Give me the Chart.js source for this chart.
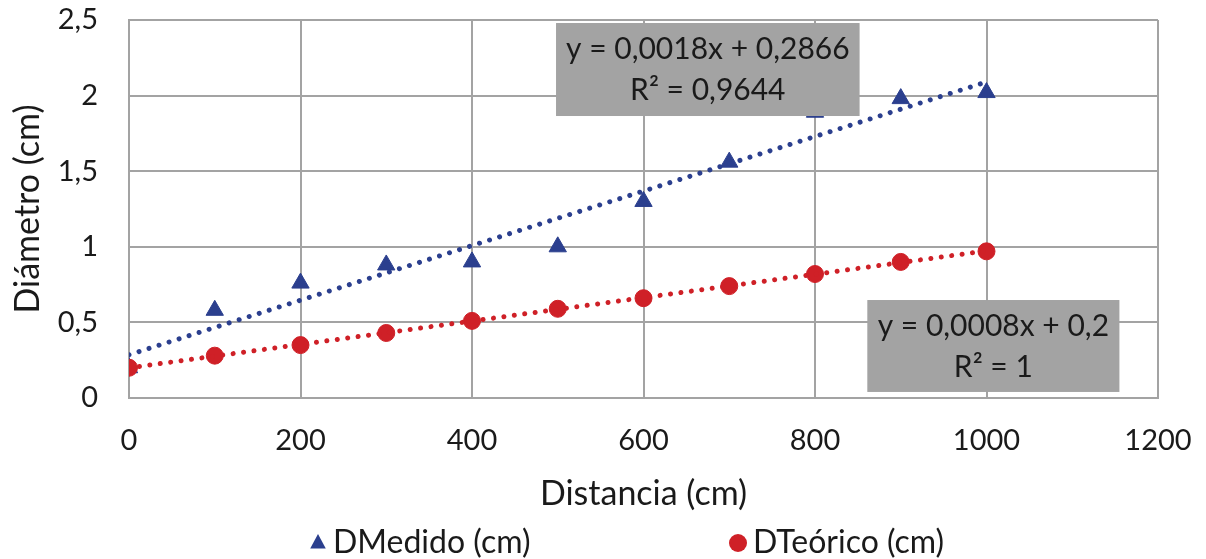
<!DOCTYPE html>
<html>
<head>
<meta charset="utf-8">
<script src="https://cdn.jsdelivr.net/npm/chart.js@4.4.0/dist/chart.umd.min.js"></script>
<style>
  html, body { margin: 0; padding: 0; background: #fff; }
  #wrap { width: 1206px; height: 559px; position: relative; }
</style>
</head>
<body>
<div id="wrap"><canvas id="chart"></canvas></div>
<script>
// Datos
const distancias = [0, 100, 200, 300, 400, 500, 600, 700, 800, 900, 1000];
const dMedido = [0.20, 0.58, 0.76, 0.88, 0.90, 1.00, 1.30, 1.56, 1.89, 1.98, 2.02];
const dTeorico = [0.20, 0.28, 0.35, 0.43, 0.51, 0.59, 0.66, 0.74, 0.82, 0.90, 0.97];
const xTickLabels = ['0', '200', '400', '600', '800', '1000', '1200'];
const yTickLabels = ['0', '0,5', '1', '1,5', '2', '2,5'];
const serieNombres = ['DMedido (cm)', 'DTeórico (cm)'];
const etiquetasAjuste = [
    ['y = 0,0018x + 0,2866', 'R² = 0,9644'],
    ['y = 0,0008x + 0,2', 'R² = 1']
];

const AZUL = '#2b3f8e';
const ROJO = '#cf2027';
const GRIS = '#a3a3a3';
const TEXTO = '#1a1a1a';
const FUENTE = 'Lato';

Chart.defaults.font.family = FUENTE;
Chart.defaults.color = TEXTO;

// Minimos cuadrados, como la linea de tendencia de Excel
function ajusteLineal(xs, ys) {
    const n = xs.length;
    const mx = xs.reduce((a, b) => a + b, 0) / n;
    const my = ys.reduce((a, b) => a + b, 0) / n;
    let sxy = 0, sxx = 0;
    for (let i = 0; i < n; i++) {
        sxy += (xs[i] - mx) * (ys[i] - my);
        sxx += (xs[i] - mx) * (xs[i] - mx);
    }
    const m = sxy / sxx;
    return { m: m, b: my - m * mx };
}

function lineaTendencia(xs, ys) {
    const f = ajusteLineal(xs, ys);
    const x0 = xs[0], x1 = xs[xs.length - 1];
    return [{ x: x0, y: f.m * x0 + f.b }, { x: x1, y: f.m * x1 + f.b }];
}

const puntos = (ys) => distancias.map((x, i) => ({ x: x, y: ys[i] }));

// Cajas grises con la ecuacion (en unidades de los ejes)
const cajas = [
    { xMin: 498, xMax: 852, yMin: 1.865, yMax: 2.48 },
    { xMin: 861, xMax: 1155, yMin: 0.04, yMax: 0.648 }
];

const cajasPlugin = {
    id: 'cajasPlugin',
    afterDatasetsDraw(chart) {
        const { ctx, scales: { x, y } } = chart;
        ctx.save();
        cajas.forEach((c, i) => {
            const l = x.getPixelForValue(c.xMin), r = x.getPixelForValue(c.xMax);
            const t = y.getPixelForValue(c.yMax), b = y.getPixelForValue(c.yMin);
            ctx.fillStyle = GRIS;
            ctx.fillRect(l, t, r - l, b - t);
            ctx.fillStyle = TEXTO;
            ctx.font = '30px ' + FUENTE;
            ctx.textAlign = 'center';
            ctx.textBaseline = 'middle';
            const cx = (l + r) / 2, cy = (t + b) / 2;
            const lineas = etiquetasAjuste[i];
            ctx.fillText(lineas[0], cx, cy - 20);
            ctx.fillText(lineas[1], cx, cy + 21);
        });
        ctx.restore();
    }
};

// Leyenda dibujada a mano para situarla como en el original
const leyendaPlugin = {
    id: 'leyendaPlugin',
    afterDraw(chart) {
        const { ctx } = chart;
        const items = [
            { ds: chart.data.datasets[2], mx: 318 },
            { ds: chart.data.datasets[3], mx: 738 }
        ];
        const yc = 543;
        ctx.save();
        items.forEach(it => {
            ctx.fillStyle = it.ds.backgroundColor;
            ctx.beginPath();
            if (it.ds.pointStyle === 'triangle') {
                const r = 9;
                ctx.moveTo(it.mx, yc - r);
                ctx.lineTo(it.mx + r * 0.866, yc + r * 0.5 + 1);
                ctx.lineTo(it.mx - r * 0.866, yc + r * 0.5 + 1);
                ctx.closePath();
            } else {
                ctx.arc(it.mx, yc, 9, 0, Math.PI * 2);
            }
            ctx.fill();
            ctx.fillStyle = TEXTO;
            ctx.font = '32px ' + FUENTE;
            ctx.textAlign = 'left';
            ctx.textBaseline = 'middle';
            ctx.fillText(it.ds.label, it.mx + 15, yc);
        });
        ctx.restore();
    }
};

const ctx = document.getElementById('chart').getContext('2d');
new Chart(ctx, {
    type: 'scatter',
    data: {
        datasets: [
            {
                label: 'Lineal (DMedido)',
                data: lineaTendencia(distancias, dMedido),
                showLine: true,
                borderColor: AZUL,
                borderWidth: 5,
                borderDash: [0.01, 10.5],
                borderCapStyle: 'round',
                pointRadius: 0,
                order: 1
            },
            {
                label: 'Lineal (DTeórico)',
                data: lineaTendencia(distancias, dTeorico),
                showLine: true,
                borderColor: ROJO,
                borderWidth: 5,
                borderDash: [0.01, 10.5],
                borderCapStyle: 'round',
                pointRadius: 0,
                order: 1
            },
            {
                label: serieNombres[0],
                data: puntos(dMedido),
                pointStyle: 'triangle',
                pointRadius: 10,
                backgroundColor: AZUL,
                borderColor: AZUL,
                borderWidth: 1,
                order: 3
            },
            {
                label: serieNombres[1],
                data: puntos(dTeorico),
                pointStyle: 'circle',
                pointRadius: 8.5,
                backgroundColor: ROJO,
                borderColor: ROJO,
                borderWidth: 1,
                order: 2
            }
        ]
    },
    options: {
        responsive: true,
        maintainAspectRatio: false,
        animation: false,
        layout: { padding: { left: 0, right: 48, top: 20, bottom: 45 } },
        scales: {
            x: {
                type: 'linear',
                min: 0,
                max: 1200,
                ticks: {
                    stepSize: 200,
                    padding: 25,
                    font: { size: 29 },
                    color: TEXTO,
                    callback: (v, i) => xTickLabels[i]
                },
                grid: { color: GRIS, lineWidth: 2, drawTicks: false },
                border: { color: GRIS, width: 2 },
                title: {
                    display: true,
                    text: 'Distancia (cm)',
                    font: { size: 34 },
                    color: TEXTO,
                    padding: { top: 0, bottom: 0 }
                },
                afterFit(scale) {
                    scale.height = 116;
                    scale.paddingLeft = 0;
                    scale.paddingRight = 0;
                }
            },
            y: {
                type: 'linear',
                min: 0,
                max: 2.5,
                ticks: {
                    stepSize: 0.5,
                    padding: 31,
                    font: { size: 29 },
                    color: TEXTO,
                    callback: (v, i) => yTickLabels[i]
                },
                grid: { color: GRIS, lineWidth: 2, drawTicks: false },
                border: { color: GRIS, width: 2 },
                title: {
                    display: true,
                    text: 'Diámetro (cm)',
                    font: { size: 34 },
                    color: TEXTO,
                    padding: { top: 8, bottom: 0 }
                },
                afterFit(scale) {
                    scale.width = 129;
                    scale.paddingTop = 0;
                    scale.paddingBottom = 0;
                }
            }
        },
        plugins: {
            legend: { display: false },
            tooltip: { enabled: false }
        }
    },
    plugins: [cajasPlugin, leyendaPlugin]
});
</script>
</body>
</html>
